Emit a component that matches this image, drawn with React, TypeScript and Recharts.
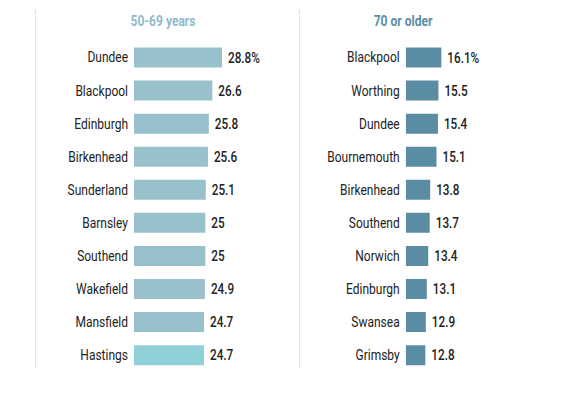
import { BarChart, Bar, XAxis, YAxis, LabelList, Cell } from 'recharts';

const youngerTowns = ['Dundee', 'Blackpool', 'Edinburgh', 'Birkenhead', 'Sunderland', 'Barnsley', 'Southend', 'Wakefield', 'Mansfield', 'Hastings'];
const youngerShare = [28.8, 26.6, 25.8, 25.6, 25.1, 25, 25, 24.9, 24.7, 24.7];

const olderTowns = ['Blackpool', 'Worthing', 'Dundee', 'Bournemouth', 'Birkenhead', 'Southend', 'Norwich', 'Edinburgh', 'Swansea', 'Grimsby'];
const olderShare = [16.1, 15.5, 15.4, 15.1, 13.8, 13.7, 13.4, 13.1, 12.9, 12.8];

// no condensed web font available, so squeeze Roboto horizontally
const FONT = 'Roboto, "Noto Sans", sans-serif';
const SQUEEZE = 0.8;

const youngerData = youngerTowns.map((name, i) => ({ name, value: youngerShare[i] }));
const olderData = olderTowns.map((name, i) => ({ name, value: olderShare[i] }));

// first row gets the % sign
const fmtValue = (v: any, idx: number) => (idx === 0 ? `${v}%` : `${v}`);

const TownTick = (props: any) => {
  const { x, y, payload } = props;
  return (
    <text
      transform={`translate(${x},${y}) scale(${SQUEEZE},1)`}
      textAnchor="end"
      dy="0.36em"
      fontSize={15}
      fontFamily={FONT}
      fill="#222"
    >
      {payload.value}
    </text>
  );
};

const ValueLabel = (props: any) => {
  const { x, y, width, height, value, index } = props;
  return (
    <text
      transform={`translate(${x + width + 6},${y + height / 2}) scale(0.84,1)`}
      dy="0.36em"
      fontSize={14}
      fontFamily={FONT}
      fontWeight={500}
      fill="#222"
    >
      {fmtValue(value, index)}
    </text>
  );
};

interface PanelProps {
  data: { name: string; value: number }[];
  axisWidth: number;
  rightMargin: number;
  color: string;
  highlight?: string;
}

const Panel = ({ data, axisWidth, rightMargin, color, highlight }: PanelProps) => (
  <BarChart
    width={290}
    height={395}
    layout="vertical"
    data={data}
    margin={{ top: 40.5, right: rightMargin, bottom: 23.8, left: 0 }}
  >
    <XAxis type="number" domain={[8.75, 35]} hide allowDataOverflow />
    <YAxis
      type="category"
      dataKey="name"
      width={axisWidth}
      axisLine={false}
      tickLine={false}
      tickSize={6}
      tickMargin={0}
      tick={<TownTick />}
      interval={0}
    />
    <Bar dataKey="value" barSize={20} fill={color} isAnimationActive={false}>
      {data.map((d, i) => (
        <Cell key={d.name} fill={highlight && i === data.length - 1 ? highlight : color} />
      ))}
      <LabelList dataKey="value" content={<ValueLabel />} />
    </Bar>
  </BarChart>
);

const titleStyle = (color: string, center: number): React.CSSProperties => ({
  position: 'absolute',
  top: 12,
  left: center - 60,
  width: 120,
  textAlign: 'center',
  fontFamily: FONT,
  fontWeight: 'bold',
  fontSize: 14,
  lineHeight: '18px',
  color,
  transform: 'scale(0.86,1)',
});

const dotted = (left: number): React.CSSProperties => ({
  position: 'absolute',
  left,
  top: 10,
  height: 357,
  borderLeft: '1px dotted #c8c8c8',
});

export default function App() {
  return (
    <div style={{ position: 'absolute', left: 0, top: 0, width: 580, height: 395, background: '#fff' }}>
      <div style={dotted(35)} />
      <div style={dotted(299)} />
      <div style={titleStyle('#8fbac8', 163)}>50-69 years</div>
      <div style={titleStyle('#5a8ea5', 403)}>70 or older</div>
      <div style={{ position: 'absolute', left: 0, top: 0 }}>
        <Panel data={youngerData} axisWidth={134} rightMargin={40.8} color="#98c1cb" highlight="#8ecfd8" />
      </div>
      <div style={{ position: 'absolute', left: 290, top: 0 }}>
        <Panel data={olderData} axisWidth={115.7} rightMargin={47} color="#5a8ca3" />
      </div>
    </div>
  );
}
